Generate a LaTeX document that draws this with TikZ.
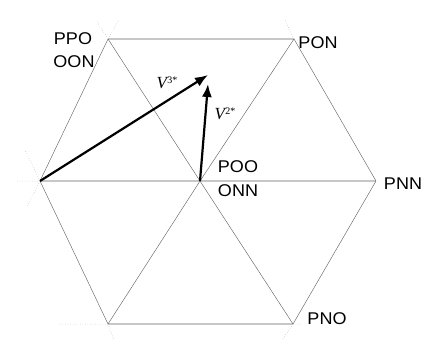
\documentclass[tikz,border=0pt]{standalone}
\usepackage{fontspec}
\setmainfont{Liberation Sans}
\newfontfamily\tms{Liberation Serif}
\usetikzlibrary{arrows.meta}
\begin{document}
\begin{tikzpicture}[x=1pt,y=-1pt,
  edgeline/.style={draw=black!22,line width=1.1pt},
  diagline/.style={draw=black!60,line width=0.45pt},
  extline/.style={draw=black!30,line width=0.5pt,dotted},
  vec/.style={draw=black,line width=2.2pt,-{Latex[length=13pt,width=10pt]}},
  lbl/.style={font=\fontsize{17}{17}\selectfont,inner sep=0pt,xscale=1.06},
  vlbl/.style={font=\tms\fontsize{17}{17}\selectfont,inner sep=0pt}]
\useasboundingbox (0,0) rectangle (427,340);
\coordinate (L) at (40,181);
\coordinate (R) at (376,181);
\coordinate (C) at (200,181);
\coordinate (TL) at (108,39);
\coordinate (TR) at (294,39);
\coordinate (BL) at (108,324);
\coordinate (BR) at (293,324);
\coordinate (tip3) at (208,75);
\coordinate (tip2) at (208,84);
% extensions
\coordinate (eL1) at (15,181);
\coordinate (eL2) at (27,207);
\coordinate (eL3) at (25,150);
\coordinate (eT1) at (96,20);
\coordinate (eT2) at (119,20);
\coordinate (eT3) at (285,20);
\coordinate (eB1) at (58,324);
\coordinate (eB2) at (114,340);
\coordinate (eB3) at (282,340);
\coordinate (eB4) at (302,324);
\draw[extline] (L) -- (eL1) (L) -- (eL2) (L) -- (eL3)
  (TL) -- (eT1) (TL) -- (eT2) (TR) -- (eT3)
  (BL) -- (eB1) (BL) -- (eB2) (BR) -- (eB3) (BR) -- (eB4);
% hexagon horizontals
\draw[edgeline] (TL) -- (TR);
\draw[edgeline] (L) -- (R);
\draw[edgeline] (BL) -- (BR);
% diagonals
\draw[diagline] (L) -- (TL) (L) -- (BL) (TL) -- (C) (C) -- (BR)
  (TR) -- (C) (C) -- (BL) (TR) -- (R) (R) -- (BR);
% vectors
\draw[vec] (L) -- (tip3);
\draw[vec] (C) -- (tip2);
% labels
\node[lbl] (ppo) at (73,39) {PPO};
\node[lbl] (oon) at (74,62) {OON};
\node[lbl] (pon) at (318,43) {PON};
\node[lbl] (poo) at (238,167) {POO};
\node[lbl] (onn) at (238,191) {ONN};
\node[lbl] (pnn) at (403,184) {PNN};
\node[lbl] (pno) at (327,319) {PNO};
\node[vlbl] (v3) at (167,83) {\itshape V\kern0.5pt\raisebox{5pt}{\fontsize{10}{10}\selectfont\upshape 3*}};
\node[vlbl] (v2) at (225,114) {\itshape V\kern0.5pt\raisebox{5pt}{\fontsize{10}{10}\selectfont\upshape 2*}};
\end{tikzpicture}
\end{document}
